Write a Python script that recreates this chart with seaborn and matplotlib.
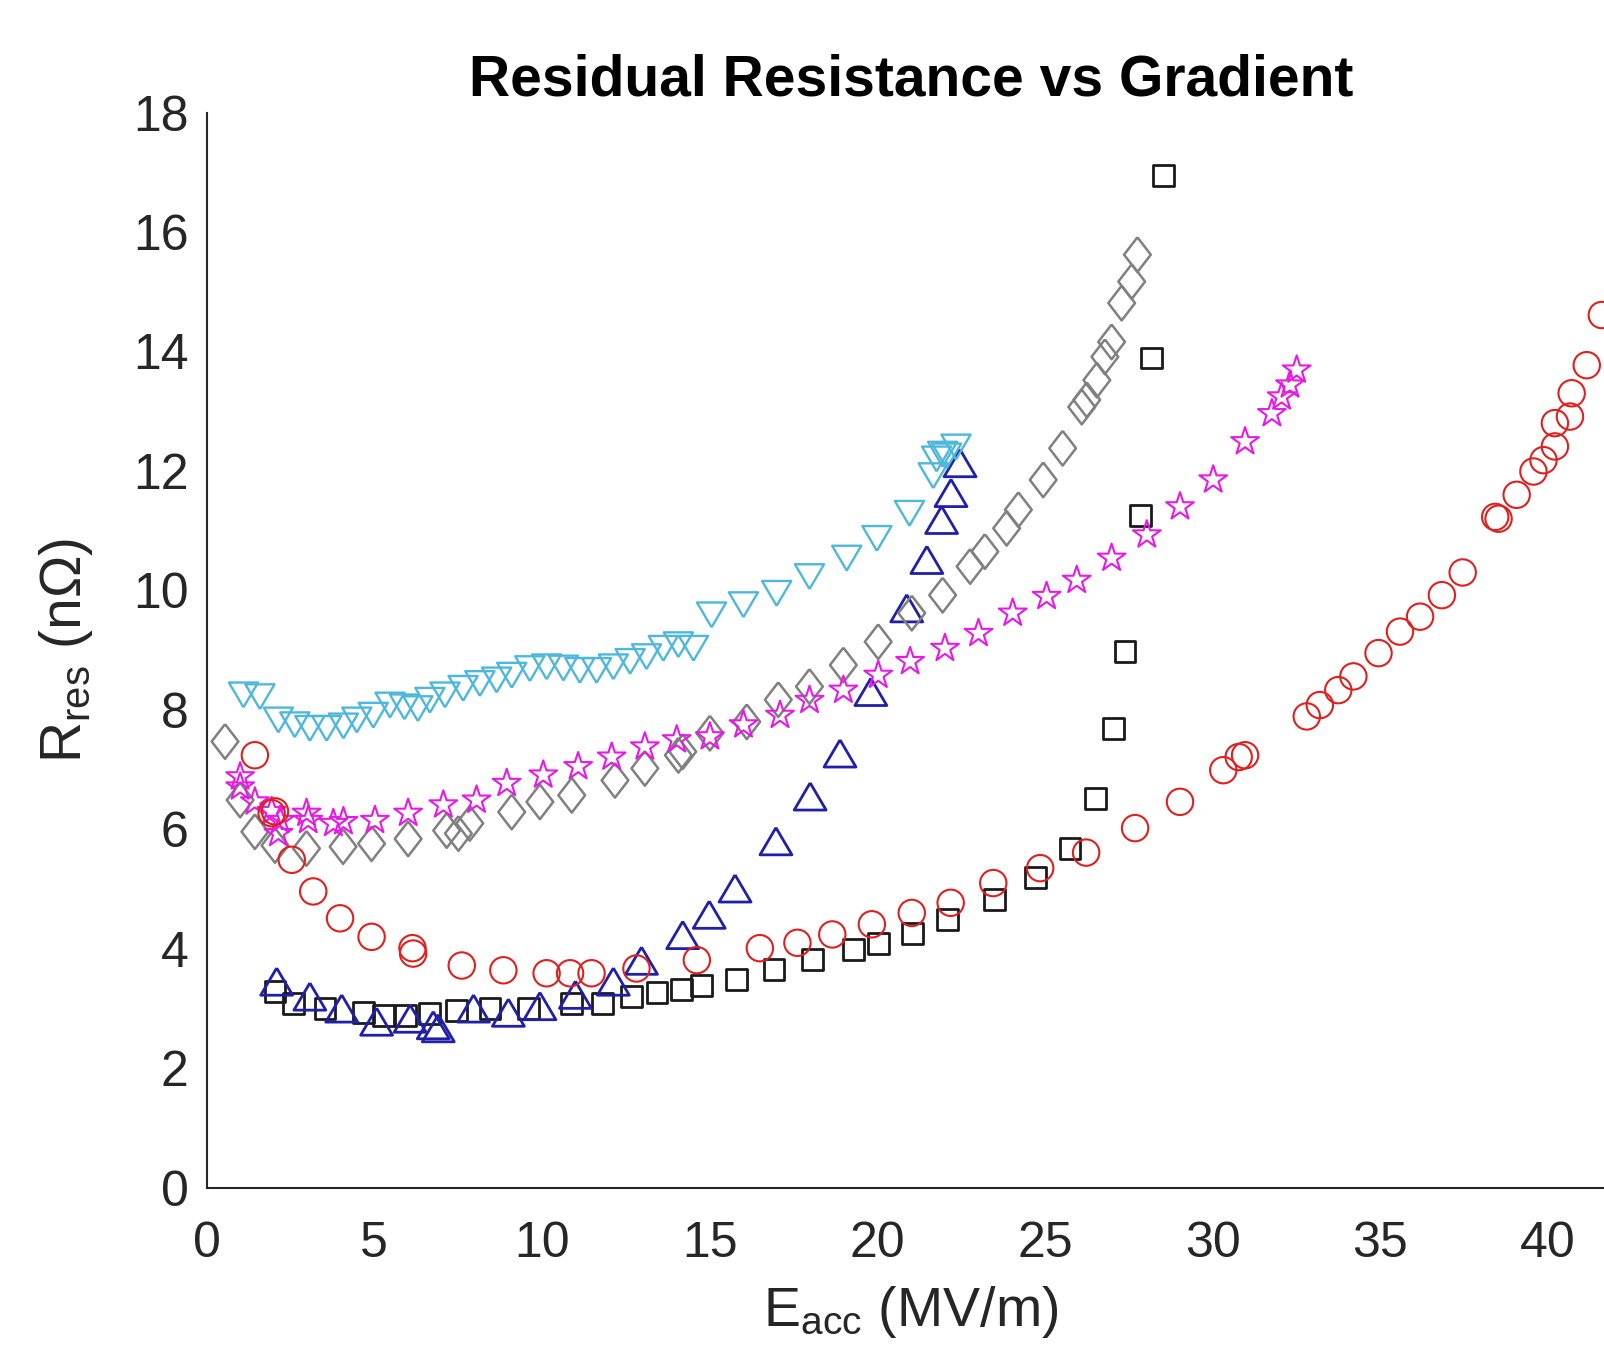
import matplotlib
matplotlib.use('Agg')
import matplotlib.pyplot as plt
import seaborn as sns

# --- data ---
# cyan, down triangles
cyan_x = [1.10, 1.59, 2.14, 2.63, 3.08, 3.58, 4.08, 4.48, 4.97, 5.47, 5.90, 6.30, 6.66, 7.11,
          7.65, 8.15, 8.65, 9.10, 9.64, 10.14, 10.64, 11.13, 11.63, 12.13, 12.63, 13.12, 13.62,
          14.07, 14.52, 15.06, 16.01, 17.00, 17.98, 19.09, 19.99, 20.96, 21.67, 21.77, 21.95,
          22.07, 22.35]
cyan_y = [8.25, 8.22, 7.83, 7.75, 7.69, 7.69, 7.73, 7.83, 7.91, 8.08, 8.05, 8.02, 8.16, 8.25,
          8.36, 8.44, 8.50, 8.58, 8.69, 8.72, 8.70, 8.66, 8.66, 8.72, 8.81, 8.89, 9.03,
          9.09, 9.03, 9.59, 9.76, 9.95, 10.23, 10.54, 10.87, 11.29, 11.92, 12.20, 12.28,
          12.25, 12.40]

# blue, up triangles
blue_x = [2.09, 3.08, 4.03, 5.07, 6.07, 6.76, 6.91, 7.96, 9.00, 9.94, 11.00, 12.13, 12.97,
          14.20, 14.99, 15.76, 16.98, 18.00, 18.89, 19.81, 20.88, 21.48, 21.92, 22.20, 22.47]
blue_y = [3.45, 3.20, 3.00, 2.78, 2.83, 2.72, 2.67, 3.00, 2.93, 3.04, 3.23, 3.45, 3.80,
          4.23, 4.57, 5.01, 5.80, 6.55, 7.27, 8.30, 9.70, 10.51, 11.18, 11.63, 12.13]

# black squares
sq_x = [2.04, 2.59, 3.53, 4.67, 5.27, 5.92, 6.66, 7.46, 8.45, 9.60, 10.89, 11.80, 12.68,
        13.43, 14.17, 14.75, 15.81, 16.92, 18.08, 19.29, 20.03, 21.06, 22.09, 23.49, 24.71,
        25.75, 26.50, 27.04, 27.39, 27.84, 28.19, 28.53]
sq_y = [3.28, 3.09, 3.00, 2.94, 2.89, 2.89, 2.92, 2.97, 3.00, 3.00, 3.09, 3.09, 3.20,
        3.27, 3.32, 3.39, 3.49, 3.66, 3.82, 3.99, 4.09, 4.26, 4.49, 4.83, 5.20,
        5.68, 6.52, 7.69, 8.97, 11.26, 13.89, 16.95]

# gray diamonds
dia_x = [0.55, 1.00, 1.44, 2.04, 2.98, 4.07, 4.92, 6.01, 7.16, 7.51, 7.85, 9.10, 9.94,
         10.89, 12.18, 13.07, 14.07, 14.20, 15.01, 16.11, 17.05, 17.98, 18.99, 20.03, 21.03,
         21.95, 22.77, 23.21, 23.86, 24.21, 24.95, 25.53, 26.10, 26.25, 26.55, 26.79, 26.99,
         27.29, 27.59, 27.76]
dia_y = [7.47, 6.49, 5.96, 5.73, 5.68, 5.71, 5.76, 5.84, 5.98, 5.93, 6.10, 6.29, 6.46,
         6.57, 6.82, 7.02, 7.24, 7.30, 7.61, 7.80, 8.17, 8.39, 8.75, 9.14, 9.62,
         9.92, 10.40, 10.65, 11.04, 11.35, 11.85, 12.38, 13.07, 13.19, 13.52, 13.91, 14.16,
         14.81, 15.17, 15.62]

# magenta stars
star_x = [1.00, 1.00, 1.44, 1.94, 2.19, 2.14, 2.98, 3.03, 3.78, 4.08, 5.02, 6.01, 7.06,
          8.05, 8.95, 10.04, 11.08, 12.08, 13.07, 14.02, 15.01, 16.01, 17.10, 17.98, 18.99,
          20.03, 20.98, 22.02, 23.02, 24.04, 25.05, 25.95, 26.99, 28.04, 29.03, 30.02, 30.97,
          31.77, 32.06, 32.31, 32.51]
star_y = [6.88, 6.71, 6.46, 6.30, 6.15, 5.93, 6.27, 6.15, 6.10, 6.13, 6.15, 6.27, 6.41,
          6.49, 6.77, 6.91, 7.05, 7.21, 7.38, 7.50, 7.55, 7.75, 7.91, 8.16, 8.33,
          8.58, 8.81, 9.03, 9.28, 9.62, 9.90, 10.17, 10.54, 10.93, 11.40, 11.85, 12.49,
          12.96, 13.24, 13.44, 13.69]

# red circles
circ_x = [1.44, 1.94, 2.04, 2.54, 3.18, 3.98, 4.92, 6.14, 6.16, 7.61, 8.85, 10.14, 10.84,
          11.48, 12.82, 14.62, 16.50, 17.62, 18.66, 19.84, 21.03, 22.19, 23.46, 24.86, 26.23,
          27.69, 29.03, 30.32, 30.78, 30.97, 32.81, 33.20, 33.75, 34.20, 34.95, 35.59, 36.19,
          36.84, 37.46, 38.43, 38.53, 39.07, 39.57, 39.87, 40.21, 40.21, 40.66, 40.71, 41.16,
          41.61]
circ_y = [7.24, 6.27, 6.30, 5.49, 4.96, 4.51, 4.20, 4.01, 3.92, 3.72, 3.64, 3.59, 3.59,
          3.59, 3.67, 3.81, 4.01, 4.10, 4.24, 4.41, 4.60, 4.77, 5.10, 5.35, 5.61,
          6.02, 6.46, 6.99, 7.21, 7.24, 7.89, 8.08, 8.33, 8.56, 8.95, 9.31, 9.56,
          9.92, 10.30, 11.23, 11.20, 11.60, 11.99, 12.18, 12.41, 12.80, 12.91, 13.30, 13.77,
          14.61]

x_ticks = [0, 5, 10, 15, 20, 25, 30, 35, 40]
y_ticks = [0, 2, 4, 6, 8, 10, 12, 14, 16, 18]

sns.set_style('white')
plt.rcParams['font.family'] = ['Liberation Sans', 'DejaVu Sans']
plt.rcParams['mathtext.fontset'] = 'custom'
plt.rcParams['mathtext.rm'] = 'Liberation Sans'
plt.rcParams['mathtext.it'] = 'Liberation Sans'

# matlab-like marker shapes
tri_up = [(0, 0.85), (-1, -0.85), (1, -0.85), (0, 0.85)]
tri_down = [(0, -0.85), (-1, 0.85), (1, 0.85), (0, -0.85)]
diamond = [(0, 1), (0.77, 0), (0, -1), (-0.77, 0), (0, 1)]

series = [
    (sq_x, sq_y, 's', '#1a1a1a', 15, 2.0),
    (blue_x, blue_y, tri_up, '#1f1fa8', 23, 2.0),
    (dia_x, dia_y, diamond, '#808080', 25, 1.8),
    (cyan_x, cyan_y, tri_down, '#4db8dc', 21, 1.7),
    (star_x, star_y, '*', '#e619e6', 21, 1.5),
    (circ_x, circ_y, 'o', '#e01f1f', 19, 1.5),
]

fig = plt.figure(figsize=(16.04, 13.46), dpi=100)
ax = fig.add_axes([0.1288, 0.1176, 0.878, 0.7988])

for xs, ys, mk, col, ms, lw in series:
    sns.scatterplot(x=xs, y=ys, marker=mk, s=ms ** 2, facecolor='none',
                    edgecolor=col, linewidth=lw, ax=ax, zorder=3)

ax.set_xlim(0, 42)
ax.set_ylim(0, 18)
ax.set_xticks(x_ticks)
ax.set_yticks(y_ticks)

for side in ['top', 'right']:
    ax.spines[side].set_visible(False)
for side in ['left', 'bottom']:
    ax.spines[side].set_color('#262626')
    ax.spines[side].set_linewidth(1.5)

ax.tick_params(axis='both', direction='in', length=11, width=1.5, color='#262626',
               labelsize=36, labelcolor='#262626')
ax.tick_params(axis='x', pad=24)
ax.tick_params(axis='y', pad=13)

ax.set_title('Residual Resistance vs Gradient', fontsize=41, fontweight='bold', pad=12.5,
             color='black')
ax.set_xlabel(r'E$_{\mathrm{acc}}$ (MV/m)', fontsize=40, labelpad=12, color='#262626')
ax.set_ylabel(r'R$_{\mathrm{res}}$ (n$\Omega$)', fontsize=41, labelpad=27, color='#262626')

fig.savefig('out.png', dpi=100)
